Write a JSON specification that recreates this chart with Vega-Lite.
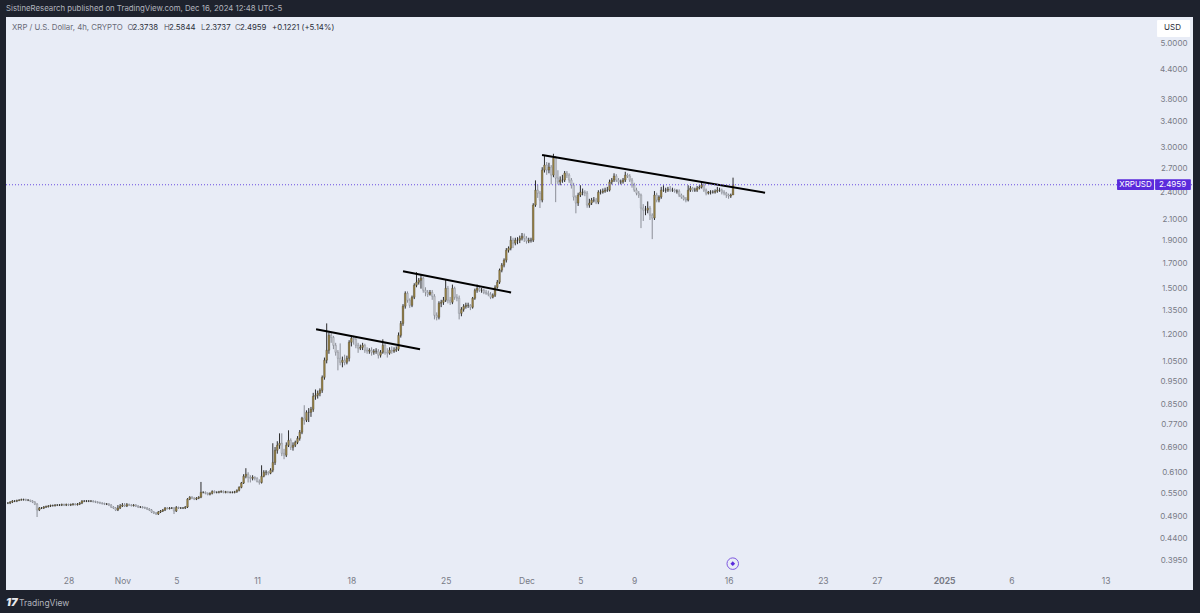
{
"$schema":"https://vega.github.io/schema/vega-lite/v6.json",
"width":1187,"height":573,
"autosize":"none",
"padding":{"left":6,"top":17,"right":7,"bottom":23},
"background":"#1e222d",
"view":{"fill":"#e8ecf6","stroke":null},
"title":{"text":"SistineResearch published on TradingView.com, Dec 16, 2024 12:48 UTC-5","anchor":"start","frame":"group","offset":4,"font":"Inter","fontSize":7.8,"fontWeight":"normal","color":"#b2b5be"},
"datasets":{
"candles":[
{"t":"2024-10-23T12:00Z","o":0.5243,"h":0.5268,"l":0.5217,"c":0.5243},
{"t":"2024-10-23T16:00Z","o":0.5243,"h":0.5294,"l":0.5217,"c":0.5268},
{"t":"2024-10-23T20:00Z","o":0.5268,"h":0.532,"l":0.5243,"c":0.5294},
{"t":"2024-10-24T00:00Z","o":0.5294,"h":0.532,"l":0.5268,"c":0.5294},
{"t":"2024-10-24T04:00Z","o":0.5294,"h":0.5332,"l":0.5268,"c":0.5307},
{"t":"2024-10-24T08:00Z","o":0.5307,"h":0.5345,"l":0.5294,"c":0.532},
{"t":"2024-10-24T12:00Z","o":0.532,"h":0.5358,"l":0.5307,"c":0.5332},
{"t":"2024-10-24T16:00Z","o":0.5332,"h":0.5358,"l":0.5307,"c":0.5332},
{"t":"2024-10-24T20:00Z","o":0.5332,"h":0.5358,"l":0.5294,"c":0.532},
{"t":"2024-10-25T00:00Z","o":0.532,"h":0.5345,"l":0.5294,"c":0.532},
{"t":"2024-10-25T04:00Z","o":0.532,"h":0.5332,"l":0.5268,"c":0.5294},
{"t":"2024-10-25T08:00Z","o":0.5294,"h":0.532,"l":0.5243,"c":0.5268},
{"t":"2024-10-25T12:00Z","o":0.5268,"h":0.5294,"l":0.5192,"c":0.5217},
{"t":"2024-10-25T16:00Z","o":0.5217,"h":0.5243,"l":0.4897,"c":0.5067},
{"t":"2024-10-25T20:00Z","o":0.5067,"h":0.5142,"l":0.5042,"c":0.5117},
{"t":"2024-10-26T00:00Z","o":0.5117,"h":0.5142,"l":0.5092,"c":0.5117},
{"t":"2024-10-26T04:00Z","o":0.5117,"h":0.5167,"l":0.5092,"c":0.5142},
{"t":"2024-10-26T08:00Z","o":0.5142,"h":0.5179,"l":0.5117,"c":0.5154},
{"t":"2024-10-26T12:00Z","o":0.5154,"h":0.5192,"l":0.513,"c":0.5167},
{"t":"2024-10-26T16:00Z","o":0.5167,"h":0.5204,"l":0.5142,"c":0.5179},
{"t":"2024-10-26T20:00Z","o":0.5179,"h":0.5204,"l":0.5154,"c":0.5179},
{"t":"2024-10-27T00:00Z","o":0.5179,"h":0.5217,"l":0.5154,"c":0.5192},
{"t":"2024-10-27T04:00Z","o":0.5192,"h":0.5217,"l":0.5167,"c":0.5192},
{"t":"2024-10-27T08:00Z","o":0.5192,"h":0.5217,"l":0.5167,"c":0.5192},
{"t":"2024-10-27T12:00Z","o":0.5192,"h":0.523,"l":0.5167,"c":0.5204},
{"t":"2024-10-27T16:00Z","o":0.5204,"h":0.523,"l":0.5167,"c":0.5192},
{"t":"2024-10-27T20:00Z","o":0.5192,"h":0.523,"l":0.5167,"c":0.5204},
{"t":"2024-10-28T00:00Z","o":0.5204,"h":0.523,"l":0.5167,"c":0.5192},
{"t":"2024-10-28T04:00Z","o":0.5192,"h":0.523,"l":0.5167,"c":0.5204},
{"t":"2024-10-28T08:00Z","o":0.5204,"h":0.5243,"l":0.5179,"c":0.5217},
{"t":"2024-10-28T12:00Z","o":0.5217,"h":0.5243,"l":0.5179,"c":0.5204},
{"t":"2024-10-28T16:00Z","o":0.5204,"h":0.5243,"l":0.5179,"c":0.5217},
{"t":"2024-10-28T20:00Z","o":0.5217,"h":0.5268,"l":0.5192,"c":0.5243},
{"t":"2024-10-29T00:00Z","o":0.5243,"h":0.532,"l":0.5217,"c":0.5294},
{"t":"2024-10-29T04:00Z","o":0.5294,"h":0.532,"l":0.5268,"c":0.5294},
{"t":"2024-10-29T08:00Z","o":0.5294,"h":0.532,"l":0.5268,"c":0.5294},
{"t":"2024-10-29T12:00Z","o":0.5294,"h":0.532,"l":0.5268,"c":0.5294},
{"t":"2024-10-29T16:00Z","o":0.5294,"h":0.532,"l":0.5268,"c":0.5294},
{"t":"2024-10-29T20:00Z","o":0.5294,"h":0.532,"l":0.5255,"c":0.5281},
{"t":"2024-10-30T00:00Z","o":0.5281,"h":0.5307,"l":0.5243,"c":0.5268},
{"t":"2024-10-30T04:00Z","o":0.5268,"h":0.5294,"l":0.523,"c":0.5255},
{"t":"2024-10-30T08:00Z","o":0.5255,"h":0.5281,"l":0.5217,"c":0.5243},
{"t":"2024-10-30T12:00Z","o":0.5243,"h":0.5268,"l":0.5204,"c":0.523},
{"t":"2024-10-30T16:00Z","o":0.523,"h":0.5255,"l":0.5192,"c":0.5217},
{"t":"2024-10-30T20:00Z","o":0.5217,"h":0.5243,"l":0.5192,"c":0.5217},
{"t":"2024-10-31T00:00Z","o":0.5217,"h":0.5243,"l":0.5167,"c":0.5192},
{"t":"2024-10-31T04:00Z","o":0.5192,"h":0.5217,"l":0.5117,"c":0.5142},
{"t":"2024-10-31T08:00Z","o":0.5142,"h":0.5167,"l":0.5092,"c":0.5117},
{"t":"2024-10-31T12:00Z","o":0.5117,"h":0.5142,"l":0.5042,"c":0.5067},
{"t":"2024-10-31T16:00Z","o":0.5067,"h":0.5192,"l":0.5042,"c":0.5117},
{"t":"2024-10-31T20:00Z","o":0.5117,"h":0.5217,"l":0.5092,"c":0.5167},
{"t":"2024-11-01T00:00Z","o":0.5167,"h":0.5243,"l":0.5142,"c":0.5192},
{"t":"2024-11-01T04:00Z","o":0.5192,"h":0.5243,"l":0.5142,"c":0.5167},
{"t":"2024-11-01T08:00Z","o":0.5167,"h":0.5243,"l":0.5142,"c":0.5204},
{"t":"2024-11-01T12:00Z","o":0.5204,"h":0.523,"l":0.5167,"c":0.5192},
{"t":"2024-11-01T16:00Z","o":0.5192,"h":0.5217,"l":0.5154,"c":0.5179},
{"t":"2024-11-01T20:00Z","o":0.5179,"h":0.5217,"l":0.5154,"c":0.5192},
{"t":"2024-11-02T00:00Z","o":0.5192,"h":0.5217,"l":0.5142,"c":0.5167},
{"t":"2024-11-02T04:00Z","o":0.5167,"h":0.5192,"l":0.5117,"c":0.5142},
{"t":"2024-11-02T08:00Z","o":0.5142,"h":0.5167,"l":0.5117,"c":0.5142},
{"t":"2024-11-02T12:00Z","o":0.5142,"h":0.5167,"l":0.5105,"c":0.513},
{"t":"2024-11-02T16:00Z","o":0.513,"h":0.5154,"l":0.5092,"c":0.5117},
{"t":"2024-11-02T20:00Z","o":0.5117,"h":0.5142,"l":0.5067,"c":0.5092},
{"t":"2024-11-03T00:00Z","o":0.5092,"h":0.5117,"l":0.5042,"c":0.5067},
{"t":"2024-11-03T04:00Z","o":0.5067,"h":0.5092,"l":0.4993,"c":0.5018},
{"t":"2024-11-03T08:00Z","o":0.5018,"h":0.5042,"l":0.4969,"c":0.4993},
{"t":"2024-11-03T12:00Z","o":0.4993,"h":0.5018,"l":0.4945,"c":0.4969},
{"t":"2024-11-03T16:00Z","o":0.4969,"h":0.5042,"l":0.4945,"c":0.5018},
{"t":"2024-11-03T20:00Z","o":0.5018,"h":0.5067,"l":0.4993,"c":0.5042},
{"t":"2024-11-04T00:00Z","o":0.5042,"h":0.5092,"l":0.5018,"c":0.5067},
{"t":"2024-11-04T04:00Z","o":0.5067,"h":0.5142,"l":0.5042,"c":0.5117},
{"t":"2024-11-04T08:00Z","o":0.5117,"h":0.5142,"l":0.508,"c":0.5105},
{"t":"2024-11-04T12:00Z","o":0.5105,"h":0.5142,"l":0.508,"c":0.5117},
{"t":"2024-11-04T16:00Z","o":0.5117,"h":0.5142,"l":0.5092,"c":0.5117},
{"t":"2024-11-04T20:00Z","o":0.5117,"h":0.5142,"l":0.4969,"c":0.5042},
{"t":"2024-11-05T00:00Z","o":0.5042,"h":0.5167,"l":0.5018,"c":0.513},
{"t":"2024-11-05T04:00Z","o":0.513,"h":0.5154,"l":0.5092,"c":0.5117},
{"t":"2024-11-05T08:00Z","o":0.5117,"h":0.5142,"l":0.5092,"c":0.5117},
{"t":"2024-11-05T12:00Z","o":0.5117,"h":0.5142,"l":0.5092,"c":0.5117},
{"t":"2024-11-05T16:00Z","o":0.5117,"h":0.5167,"l":0.5092,"c":0.5142},
{"t":"2024-11-05T20:00Z","o":0.5142,"h":0.5371,"l":0.5117,"c":0.5345},
{"t":"2024-11-06T00:00Z","o":0.5345,"h":0.5423,"l":0.532,"c":0.5397},
{"t":"2024-11-06T04:00Z","o":0.5397,"h":0.5423,"l":0.5345,"c":0.5371},
{"t":"2024-11-06T08:00Z","o":0.5371,"h":0.5397,"l":0.532,"c":0.5345},
{"t":"2024-11-06T12:00Z","o":0.5345,"h":0.5397,"l":0.532,"c":0.5371},
{"t":"2024-11-06T16:00Z","o":0.5371,"h":0.5423,"l":0.5345,"c":0.5397},
{"t":"2024-11-06T20:00Z","o":0.5397,"h":0.5815,"l":0.5371,"c":0.5526},
{"t":"2024-11-07T00:00Z","o":0.5526,"h":0.5553,"l":0.5499,"c":0.5526},
{"t":"2024-11-07T04:00Z","o":0.5526,"h":0.5553,"l":0.5472,"c":0.5499},
{"t":"2024-11-07T08:00Z","o":0.5499,"h":0.5526,"l":0.5445,"c":0.5472},
{"t":"2024-11-07T12:00Z","o":0.5472,"h":0.5526,"l":0.5445,"c":0.5499},
{"t":"2024-11-07T16:00Z","o":0.5499,"h":0.558,"l":0.5472,"c":0.5553},
{"t":"2024-11-07T20:00Z","o":0.5553,"h":0.558,"l":0.5499,"c":0.5526},
{"t":"2024-11-08T00:00Z","o":0.5526,"h":0.5553,"l":0.5499,"c":0.5526},
{"t":"2024-11-08T04:00Z","o":0.5526,"h":0.5566,"l":0.5499,"c":0.554},
{"t":"2024-11-08T08:00Z","o":0.554,"h":0.558,"l":0.5513,"c":0.5553},
{"t":"2024-11-08T12:00Z","o":0.5553,"h":0.558,"l":0.5499,"c":0.5526},
{"t":"2024-11-08T16:00Z","o":0.5526,"h":0.5566,"l":0.5499,"c":0.554},
{"t":"2024-11-08T20:00Z","o":0.554,"h":0.5566,"l":0.5499,"c":0.5526},
{"t":"2024-11-09T00:00Z","o":0.5526,"h":0.5553,"l":0.5499,"c":0.5526},
{"t":"2024-11-09T04:00Z","o":0.5526,"h":0.5553,"l":0.5499,"c":0.5526},
{"t":"2024-11-09T08:00Z","o":0.5526,"h":0.5566,"l":0.5499,"c":0.554},
{"t":"2024-11-09T12:00Z","o":0.554,"h":0.5607,"l":0.5513,"c":0.558},
{"t":"2024-11-09T16:00Z","o":0.558,"h":0.5692,"l":0.5553,"c":0.5665},
{"t":"2024-11-09T20:00Z","o":0.5665,"h":0.5815,"l":0.5638,"c":0.5786},
{"t":"2024-11-10T00:00Z","o":0.5786,"h":0.604,"l":0.5757,"c":0.598},
{"t":"2024-11-10T04:00Z","o":0.598,"h":0.622,"l":0.592,"c":0.604},
{"t":"2024-11-10T08:00Z","o":0.604,"h":0.61,"l":0.58,"c":0.595},
{"t":"2024-11-10T12:00Z","o":0.595,"h":0.601,"l":0.58,"c":0.592},
{"t":"2024-11-10T16:00Z","o":0.592,"h":0.601,"l":0.586,"c":0.595},
{"t":"2024-11-10T20:00Z","o":0.595,"h":0.598,"l":0.586,"c":0.592},
{"t":"2024-11-11T00:00Z","o":0.592,"h":0.595,"l":0.58,"c":0.583},
{"t":"2024-11-11T04:00Z","o":0.583,"h":0.589,"l":0.574,"c":0.58},
{"t":"2024-11-11T08:00Z","o":0.58,"h":0.631,"l":0.577,"c":0.598},
{"t":"2024-11-11T12:00Z","o":0.598,"h":0.616,"l":0.595,"c":0.61},
{"t":"2024-11-11T16:00Z","o":0.61,"h":0.616,"l":0.601,"c":0.61},
{"t":"2024-11-11T20:00Z","o":0.61,"h":0.613,"l":0.601,"c":0.607},
{"t":"2024-11-12T00:00Z","o":0.607,"h":0.622,"l":0.604,"c":0.616},
{"t":"2024-11-12T04:00Z","o":0.616,"h":0.703,"l":0.61,"c":0.64},
{"t":"2024-11-12T08:00Z","o":0.64,"h":0.69,"l":0.632,"c":0.679},
{"t":"2024-11-12T12:00Z","o":0.679,"h":0.71,"l":0.668,"c":0.696},
{"t":"2024-11-12T16:00Z","o":0.696,"h":0.738,"l":0.684,"c":0.703},
{"t":"2024-11-12T20:00Z","o":0.703,"h":0.738,"l":0.66,"c":0.669},
{"t":"2024-11-13T00:00Z","o":0.669,"h":0.684,"l":0.65,"c":0.663},
{"t":"2024-11-13T04:00Z","o":0.663,"h":0.706,"l":0.657,"c":0.696},
{"t":"2024-11-13T08:00Z","o":0.696,"h":0.749,"l":0.69,"c":0.713},
{"t":"2024-11-13T12:00Z","o":0.713,"h":0.72,"l":0.68,"c":0.689},
{"t":"2024-11-13T16:00Z","o":0.689,"h":0.706,"l":0.678,"c":0.696},
{"t":"2024-11-13T20:00Z","o":0.696,"h":0.712,"l":0.69,"c":0.706},
{"t":"2024-11-14T00:00Z","o":0.706,"h":0.728,"l":0.7,"c":0.72},
{"t":"2024-11-14T04:00Z","o":0.72,"h":0.75,"l":0.712,"c":0.742},
{"t":"2024-11-14T08:00Z","o":0.742,"h":0.8,"l":0.735,"c":0.795},
{"t":"2024-11-14T12:00Z","o":0.795,"h":0.847,"l":0.77,"c":0.787},
{"t":"2024-11-14T16:00Z","o":0.787,"h":0.826,"l":0.78,"c":0.818},
{"t":"2024-11-14T20:00Z","o":0.818,"h":0.835,"l":0.78,"c":0.818},
{"t":"2024-11-15T00:00Z","o":0.818,"h":0.84,"l":0.8,"c":0.83},
{"t":"2024-11-15T04:00Z","o":0.83,"h":0.9,"l":0.82,"c":0.885},
{"t":"2024-11-15T08:00Z","o":0.885,"h":0.915,"l":0.87,"c":0.889},
{"t":"2024-11-15T12:00Z","o":0.889,"h":0.91,"l":0.875,"c":0.898},
{"t":"2024-11-15T16:00Z","o":0.898,"h":0.92,"l":0.885,"c":0.911},
{"t":"2024-11-15T20:00Z","o":0.911,"h":0.98,"l":0.9,"c":0.971},
{"t":"2024-11-16T00:00Z","o":0.971,"h":1.07,"l":0.96,"c":1.056},
{"t":"2024-11-16T04:00Z","o":1.056,"h":1.265,"l":1.04,"c":1.109},
{"t":"2024-11-16T08:00Z","o":1.109,"h":1.21,"l":1.09,"c":1.193},
{"t":"2024-11-16T12:00Z","o":1.193,"h":1.21,"l":1.15,"c":1.181},
{"t":"2024-11-16T16:00Z","o":1.181,"h":1.19,"l":1.115,"c":1.136},
{"t":"2024-11-16T20:00Z","o":1.136,"h":1.15,"l":1.08,"c":1.098},
{"t":"2024-11-17T00:00Z","o":1.098,"h":1.11,"l":1.005,"c":1.066},
{"t":"2024-11-17T04:00Z","o":1.066,"h":1.147,"l":1.03,"c":1.045},
{"t":"2024-11-17T08:00Z","o":1.045,"h":1.075,"l":1.02,"c":1.056},
{"t":"2024-11-17T12:00Z","o":1.056,"h":1.085,"l":1.03,"c":1.045},
{"t":"2024-11-17T16:00Z","o":1.045,"h":1.08,"l":1.035,"c":1.066},
{"t":"2024-11-17T20:00Z","o":1.066,"h":1.165,"l":1.05,"c":1.153},
{"t":"2024-11-18T00:00Z","o":1.153,"h":1.19,"l":1.13,"c":1.176},
{"t":"2024-11-18T04:00Z","o":1.176,"h":1.19,"l":1.14,"c":1.17},
{"t":"2024-11-18T08:00Z","o":1.17,"h":1.18,"l":1.12,"c":1.136},
{"t":"2024-11-18T12:00Z","o":1.136,"h":1.15,"l":1.095,"c":1.12},
{"t":"2024-11-18T16:00Z","o":1.12,"h":1.14,"l":1.11,"c":1.125},
{"t":"2024-11-18T20:00Z","o":1.125,"h":1.15,"l":1.11,"c":1.136},
{"t":"2024-11-19T00:00Z","o":1.136,"h":1.145,"l":1.095,"c":1.109},
{"t":"2024-11-19T04:00Z","o":1.109,"h":1.125,"l":1.09,"c":1.104},
{"t":"2024-11-19T08:00Z","o":1.104,"h":1.12,"l":1.09,"c":1.109},
{"t":"2024-11-19T12:00Z","o":1.109,"h":1.125,"l":1.08,"c":1.098},
{"t":"2024-11-19T16:00Z","o":1.098,"h":1.115,"l":1.085,"c":1.104},
{"t":"2024-11-19T20:00Z","o":1.104,"h":1.12,"l":1.09,"c":1.104},
{"t":"2024-11-20T00:00Z","o":1.104,"h":1.115,"l":1.065,"c":1.082},
{"t":"2024-11-20T04:00Z","o":1.082,"h":1.11,"l":1.07,"c":1.098},
{"t":"2024-11-20T08:00Z","o":1.098,"h":1.17,"l":1.09,"c":1.136},
{"t":"2024-11-20T12:00Z","o":1.136,"h":1.15,"l":1.085,"c":1.098},
{"t":"2024-11-20T16:00Z","o":1.098,"h":1.12,"l":1.07,"c":1.093},
{"t":"2024-11-20T20:00Z","o":1.093,"h":1.125,"l":1.085,"c":1.109},
{"t":"2024-11-21T00:00Z","o":1.109,"h":1.13,"l":1.09,"c":1.104},
{"t":"2024-11-21T04:00Z","o":1.104,"h":1.125,"l":1.095,"c":1.109},
{"t":"2024-11-21T08:00Z","o":1.109,"h":1.13,"l":1.1,"c":1.115},
{"t":"2024-11-21T12:00Z","o":1.115,"h":1.21,"l":1.105,"c":1.193},
{"t":"2024-11-21T16:00Z","o":1.193,"h":1.28,"l":1.18,"c":1.265},
{"t":"2024-11-21T20:00Z","o":1.265,"h":1.39,"l":1.25,"c":1.376},
{"t":"2024-11-22T00:00Z","o":1.376,"h":1.48,"l":1.36,"c":1.466},
{"t":"2024-11-22T04:00Z","o":1.466,"h":1.48,"l":1.4,"c":1.417},
{"t":"2024-11-22T08:00Z","o":1.417,"h":1.43,"l":1.365,"c":1.382},
{"t":"2024-11-22T12:00Z","o":1.382,"h":1.45,"l":1.37,"c":1.438},
{"t":"2024-11-22T16:00Z","o":1.438,"h":1.54,"l":1.425,"c":1.525},
{"t":"2024-11-22T20:00Z","o":1.525,"h":1.626,"l":1.51,"c":1.548},
{"t":"2024-11-23T00:00Z","o":1.548,"h":1.58,"l":1.53,"c":1.563},
{"t":"2024-11-23T04:00Z","o":1.563,"h":1.61,"l":1.5,"c":1.579},
{"t":"2024-11-23T08:00Z","o":1.579,"h":1.59,"l":1.47,"c":1.488},
{"t":"2024-11-23T12:00Z","o":1.488,"h":1.51,"l":1.445,"c":1.473},
{"t":"2024-11-23T16:00Z","o":1.473,"h":1.49,"l":1.44,"c":1.459},
{"t":"2024-11-23T20:00Z","o":1.459,"h":1.49,"l":1.45,"c":1.473},
{"t":"2024-11-24T00:00Z","o":1.473,"h":1.49,"l":1.42,"c":1.445},
{"t":"2024-11-24T04:00Z","o":1.445,"h":1.46,"l":1.29,"c":1.316},
{"t":"2024-11-24T08:00Z","o":1.316,"h":1.335,"l":1.284,"c":1.303},
{"t":"2024-11-24T12:00Z","o":1.303,"h":1.41,"l":1.29,"c":1.396},
{"t":"2024-11-24T16:00Z","o":1.396,"h":1.42,"l":1.37,"c":1.403},
{"t":"2024-11-24T20:00Z","o":1.403,"h":1.44,"l":1.385,"c":1.417},
{"t":"2024-11-25T00:00Z","o":1.417,"h":1.57,"l":1.405,"c":1.502},
{"t":"2024-11-25T04:00Z","o":1.502,"h":1.52,"l":1.395,"c":1.417},
{"t":"2024-11-25T08:00Z","o":1.417,"h":1.44,"l":1.385,"c":1.403},
{"t":"2024-11-25T12:00Z","o":1.403,"h":1.53,"l":1.39,"c":1.502},
{"t":"2024-11-25T16:00Z","o":1.502,"h":1.515,"l":1.42,"c":1.438},
{"t":"2024-11-25T20:00Z","o":1.438,"h":1.46,"l":1.41,"c":1.431},
{"t":"2024-11-26T00:00Z","o":1.431,"h":1.45,"l":1.29,"c":1.329},
{"t":"2024-11-26T04:00Z","o":1.329,"h":1.37,"l":1.31,"c":1.355},
{"t":"2024-11-26T08:00Z","o":1.355,"h":1.39,"l":1.34,"c":1.375},
{"t":"2024-11-26T12:00Z","o":1.375,"h":1.4,"l":1.36,"c":1.382},
{"t":"2024-11-26T16:00Z","o":1.382,"h":1.4,"l":1.365,"c":1.382},
{"t":"2024-11-26T20:00Z","o":1.382,"h":1.39,"l":1.35,"c":1.369},
{"t":"2024-11-27T00:00Z","o":1.369,"h":1.44,"l":1.36,"c":1.431},
{"t":"2024-11-27T04:00Z","o":1.431,"h":1.5,"l":1.42,"c":1.488},
{"t":"2024-11-27T08:00Z","o":1.488,"h":1.53,"l":1.47,"c":1.502},
{"t":"2024-11-27T12:00Z","o":1.502,"h":1.515,"l":1.475,"c":1.488},
{"t":"2024-11-27T16:00Z","o":1.488,"h":1.505,"l":1.47,"c":1.488},
{"t":"2024-11-27T20:00Z","o":1.488,"h":1.5,"l":1.46,"c":1.473},
{"t":"2024-11-28T00:00Z","o":1.473,"h":1.49,"l":1.455,"c":1.466},
{"t":"2024-11-28T04:00Z","o":1.466,"h":1.485,"l":1.445,"c":1.459},
{"t":"2024-11-28T08:00Z","o":1.459,"h":1.475,"l":1.425,"c":1.438},
{"t":"2024-11-28T12:00Z","o":1.438,"h":1.465,"l":1.43,"c":1.452},
{"t":"2024-11-28T16:00Z","o":1.452,"h":1.525,"l":1.44,"c":1.51},
{"t":"2024-11-28T20:00Z","o":1.51,"h":1.565,"l":1.5,"c":1.548},
{"t":"2024-11-29T00:00Z","o":1.548,"h":1.655,"l":1.535,"c":1.642},
{"t":"2024-11-29T04:00Z","o":1.642,"h":1.7,"l":1.625,"c":1.683},
{"t":"2024-11-29T08:00Z","o":1.683,"h":1.74,"l":1.665,"c":1.725},
{"t":"2024-11-29T12:00Z","o":1.725,"h":1.83,"l":1.705,"c":1.811},
{"t":"2024-11-29T16:00Z","o":1.811,"h":1.845,"l":1.79,"c":1.829},
{"t":"2024-11-29T20:00Z","o":1.829,"h":1.94,"l":1.81,"c":1.902},
{"t":"2024-11-30T00:00Z","o":1.902,"h":1.925,"l":1.83,"c":1.875},
{"t":"2024-11-30T04:00Z","o":1.875,"h":1.925,"l":1.855,"c":1.902},
{"t":"2024-11-30T08:00Z","o":1.902,"h":1.93,"l":1.865,"c":1.902},
{"t":"2024-11-30T12:00Z","o":1.902,"h":1.945,"l":1.875,"c":1.921},
{"t":"2024-11-30T16:00Z","o":1.921,"h":1.97,"l":1.9,"c":1.94},
{"t":"2024-11-30T20:00Z","o":1.94,"h":1.965,"l":1.885,"c":1.921},
{"t":"2024-12-01T00:00Z","o":1.921,"h":1.94,"l":1.87,"c":1.893},
{"t":"2024-12-01T04:00Z","o":1.893,"h":1.925,"l":1.875,"c":1.902},
{"t":"2024-12-01T08:00Z","o":1.902,"h":1.925,"l":1.88,"c":1.902},
{"t":"2024-12-01T12:00Z","o":1.902,"h":2.28,"l":1.885,"c":2.259},
{"t":"2024-12-01T16:00Z","o":2.259,"h":2.55,"l":2.24,"c":2.431},
{"t":"2024-12-01T20:00Z","o":2.431,"h":2.5,"l":2.34,"c":2.395},
{"t":"2024-12-02T00:00Z","o":2.395,"h":2.42,"l":2.227,"c":2.315},
{"t":"2024-12-02T04:00Z","o":2.315,"h":2.72,"l":2.29,"c":2.682},
{"t":"2024-12-02T08:00Z","o":2.682,"h":2.873,"l":2.65,"c":2.749},
{"t":"2024-12-02T12:00Z","o":2.749,"h":2.79,"l":2.62,"c":2.682},
{"t":"2024-12-02T16:00Z","o":2.682,"h":2.78,"l":2.64,"c":2.722},
{"t":"2024-12-02T20:00Z","o":2.722,"h":2.75,"l":2.5,"c":2.617},
{"t":"2024-12-03T00:00Z","o":2.617,"h":2.905,"l":2.59,"c":2.845},
{"t":"2024-12-03T04:00Z","o":2.845,"h":2.873,"l":2.292,"c":2.579},
{"t":"2024-12-03T08:00Z","o":2.579,"h":2.68,"l":2.5,"c":2.53},
{"t":"2024-12-03T12:00Z","o":2.53,"h":2.6,"l":2.49,"c":2.554},
{"t":"2024-12-03T16:00Z","o":2.554,"h":2.62,"l":2.52,"c":2.554},
{"t":"2024-12-03T20:00Z","o":2.554,"h":2.67,"l":2.53,"c":2.643},
{"t":"2024-12-04T00:00Z","o":2.643,"h":2.67,"l":2.58,"c":2.617},
{"t":"2024-12-04T04:00Z","o":2.617,"h":2.64,"l":2.52,"c":2.554},
{"t":"2024-12-04T08:00Z","o":2.554,"h":2.58,"l":2.45,"c":2.492},
{"t":"2024-12-04T12:00Z","o":2.492,"h":2.52,"l":2.31,"c":2.35},
{"t":"2024-12-04T16:00Z","o":2.35,"h":2.37,"l":2.17,"c":2.282},
{"t":"2024-12-04T20:00Z","o":2.282,"h":2.4,"l":2.25,"c":2.373},
{"t":"2024-12-05T00:00Z","o":2.373,"h":2.49,"l":2.35,"c":2.407},
{"t":"2024-12-05T04:00Z","o":2.407,"h":2.45,"l":2.37,"c":2.407},
{"t":"2024-12-05T08:00Z","o":2.407,"h":2.43,"l":2.36,"c":2.395},
{"t":"2024-12-05T12:00Z","o":2.395,"h":2.42,"l":2.23,"c":2.259},
{"t":"2024-12-05T16:00Z","o":2.259,"h":2.33,"l":2.23,"c":2.282},
{"t":"2024-12-05T20:00Z","o":2.282,"h":2.34,"l":2.26,"c":2.315},
{"t":"2024-12-06T00:00Z","o":2.315,"h":2.35,"l":2.29,"c":2.315},
{"t":"2024-12-06T04:00Z","o":2.315,"h":2.34,"l":2.27,"c":2.292},
{"t":"2024-12-06T08:00Z","o":2.292,"h":2.43,"l":2.27,"c":2.407},
{"t":"2024-12-06T12:00Z","o":2.407,"h":2.44,"l":2.38,"c":2.407},
{"t":"2024-12-06T16:00Z","o":2.407,"h":2.45,"l":2.39,"c":2.419},
{"t":"2024-12-06T20:00Z","o":2.419,"h":2.46,"l":2.4,"c":2.431},
{"t":"2024-12-07T00:00Z","o":2.431,"h":2.47,"l":2.41,"c":2.431},
{"t":"2024-12-07T04:00Z","o":2.431,"h":2.56,"l":2.415,"c":2.53},
{"t":"2024-12-07T08:00Z","o":2.53,"h":2.58,"l":2.5,"c":2.554},
{"t":"2024-12-07T12:00Z","o":2.554,"h":2.64,"l":2.53,"c":2.604},
{"t":"2024-12-07T16:00Z","o":2.604,"h":2.63,"l":2.53,"c":2.554},
{"t":"2024-12-07T20:00Z","o":2.554,"h":2.58,"l":2.5,"c":2.53},
{"t":"2024-12-08T00:00Z","o":2.53,"h":2.56,"l":2.5,"c":2.53},
{"t":"2024-12-08T04:00Z","o":2.53,"h":2.58,"l":2.51,"c":2.554},
{"t":"2024-12-08T08:00Z","o":2.554,"h":2.66,"l":2.53,"c":2.617},
{"t":"2024-12-08T12:00Z","o":2.617,"h":2.64,"l":2.58,"c":2.604},
{"t":"2024-12-08T16:00Z","o":2.604,"h":2.63,"l":2.53,"c":2.554},
{"t":"2024-12-08T20:00Z","o":2.554,"h":2.58,"l":2.46,"c":2.492},
{"t":"2024-12-09T00:00Z","o":2.492,"h":2.52,"l":2.41,"c":2.431},
{"t":"2024-12-09T04:00Z","o":2.431,"h":2.46,"l":2.37,"c":2.395},
{"t":"2024-12-09T08:00Z","o":2.395,"h":2.42,"l":2.34,"c":2.373},
{"t":"2024-12-09T12:00Z","o":2.373,"h":2.39,"l":2.018,"c":2.226},
{"t":"2024-12-09T16:00Z","o":2.226,"h":2.27,"l":2.09,"c":2.204},
{"t":"2024-12-09T20:00Z","o":2.204,"h":2.25,"l":2.15,"c":2.204},
{"t":"2024-12-10T00:00Z","o":2.204,"h":2.3,"l":2.17,"c":2.226},
{"t":"2024-12-10T04:00Z","o":2.226,"h":2.25,"l":2.1,"c":2.151},
{"t":"2024-12-10T08:00Z","o":2.151,"h":2.17,"l":1.912,"c":2.12},
{"t":"2024-12-10T12:00Z","o":2.12,"h":2.42,"l":2.1,"c":2.373},
{"t":"2024-12-10T16:00Z","o":2.373,"h":2.4,"l":2.29,"c":2.315},
{"t":"2024-12-10T20:00Z","o":2.315,"h":2.37,"l":2.29,"c":2.35},
{"t":"2024-12-11T00:00Z","o":2.35,"h":2.47,"l":2.33,"c":2.431},
{"t":"2024-12-11T04:00Z","o":2.431,"h":2.49,"l":2.41,"c":2.431},
{"t":"2024-12-11T08:00Z","o":2.431,"h":2.46,"l":2.4,"c":2.431},
{"t":"2024-12-11T12:00Z","o":2.431,"h":2.47,"l":2.41,"c":2.443},
{"t":"2024-12-11T16:00Z","o":2.443,"h":2.48,"l":2.41,"c":2.431},
{"t":"2024-12-11T20:00Z","o":2.431,"h":2.46,"l":2.41,"c":2.431},
{"t":"2024-12-12T00:00Z","o":2.431,"h":2.45,"l":2.4,"c":2.419},
{"t":"2024-12-12T04:00Z","o":2.419,"h":2.44,"l":2.39,"c":2.419},
{"t":"2024-12-12T08:00Z","o":2.419,"h":2.44,"l":2.35,"c":2.373},
{"t":"2024-12-12T12:00Z","o":2.373,"h":2.39,"l":2.33,"c":2.35},
{"t":"2024-12-12T16:00Z","o":2.35,"h":2.37,"l":2.31,"c":2.327},
{"t":"2024-12-12T20:00Z","o":2.327,"h":2.35,"l":2.29,"c":2.315},
{"t":"2024-12-13T00:00Z","o":2.315,"h":2.49,"l":2.3,"c":2.431},
{"t":"2024-12-13T04:00Z","o":2.431,"h":2.48,"l":2.41,"c":2.455},
{"t":"2024-12-13T08:00Z","o":2.455,"h":2.47,"l":2.41,"c":2.431},
{"t":"2024-12-13T12:00Z","o":2.431,"h":2.46,"l":2.41,"c":2.431},
{"t":"2024-12-13T16:00Z","o":2.431,"h":2.48,"l":2.41,"c":2.455},
{"t":"2024-12-13T20:00Z","o":2.455,"h":2.49,"l":2.44,"c":2.467},
{"t":"2024-12-14T00:00Z","o":2.467,"h":2.53,"l":2.45,"c":2.492},
{"t":"2024-12-14T04:00Z","o":2.492,"h":2.51,"l":2.41,"c":2.431},
{"t":"2024-12-14T08:00Z","o":2.431,"h":2.45,"l":2.37,"c":2.395},
{"t":"2024-12-14T12:00Z","o":2.395,"h":2.42,"l":2.38,"c":2.407},
{"t":"2024-12-14T16:00Z","o":2.407,"h":2.43,"l":2.38,"c":2.407},
{"t":"2024-12-14T20:00Z","o":2.407,"h":2.43,"l":2.39,"c":2.407},
{"t":"2024-12-15T00:00Z","o":2.407,"h":2.44,"l":2.39,"c":2.419},
{"t":"2024-12-15T04:00Z","o":2.419,"h":2.47,"l":2.4,"c":2.431},
{"t":"2024-12-15T08:00Z","o":2.431,"h":2.46,"l":2.41,"c":2.431},
{"t":"2024-12-15T12:00Z","o":2.431,"h":2.45,"l":2.38,"c":2.407},
{"t":"2024-12-15T16:00Z","o":2.407,"h":2.43,"l":2.37,"c":2.395},
{"t":"2024-12-15T20:00Z","o":2.395,"h":2.41,"l":2.34,"c":2.373},
{"t":"2024-12-16T00:00Z","o":2.373,"h":2.39,"l":2.33,"c":2.361},
{"t":"2024-12-16T04:00Z","o":2.361,"h":2.39,"l":2.34,"c":2.3738},
{"t":"2024-12-16T08:00Z","o":2.3738,"h":2.5844,"l":2.3737,"c":2.4959}
],
"trendlines":[
{"line":"a","t":"2024-11-15T09:05Z","price":1.229},
{"line":"a","t":"2024-11-23T02:20Z","price":1.114},
{"line":"b","t":"2024-11-21T20:00Z","price":1.634},
{"line":"b","t":"2024-11-29T20:30Z","price":1.472},
{"line":"c","t":"2024-12-02T03:45Z","price":2.887},
{"line":"c","t":"2024-12-18T17:00Z","price":2.401}
],
"lastprice":[{"from":"2024-10-23T08:38Z","to":"2025-01-19T11:30Z","price":2.4959}],
"tags":[
{"from":"2025-01-13T20:10Z","to":"2025-01-16T14:10Z","top":2.564,"bottom":2.432,"kind":"purple"},
{"from":"2025-01-16T16:00Z","to":"2025-01-19T07:40Z","top":2.564,"bottom":2.432,"kind":"purple"},
{"from":"2025-01-16T19:30Z","to":"2025-01-19T06:20Z","top":5.597,"bottom":5.149,"kind":"white"}
],
"tagtext":[
{"t":"2025-01-15T05:00Z","price":2.4959,"text":"XRPUSD","kind":"light"},
{"t":"2025-01-17T23:00Z","price":2.4959,"text":"2.4959","kind":"light"},
{"t":"2025-01-17T23:00Z","price":5.375,"text":"USD","kind":"dark"}
],
"legendline":[
{"t":"2024-10-23T19:25Z","price":5.381,"text":"XRP / U.S. Dollar, 4h, CRYPTO","kind":"dim"},
{"t":"2024-11-01T09:05Z","price":5.381,"text":"O","kind":"dim"},
{"t":"2024-11-01T18:00Z","price":5.381,"text":"2.3738","kind":"dark"},
{"t":"2024-11-04T02:10Z","price":5.381,"text":"H","kind":"dim"},
{"t":"2024-11-04T11:00Z","price":5.381,"text":"2.5844","kind":"dark"},
{"t":"2024-11-06T20:00Z","price":5.381,"text":"L","kind":"dim"},
{"t":"2024-11-07T04:00Z","price":5.381,"text":"2.3737","kind":"dark"},
{"t":"2024-11-09T08:40Z","price":5.381,"text":"C","kind":"dim"},
{"t":"2024-11-09T17:30Z","price":5.381,"text":"2.4959","kind":"dark"},
{"t":"2024-11-12T02:40Z","price":5.381,"text":"+0.1221 (+5.14%)","kind":"dark"}
]
},
"encoding":{
"x":{"field":"t","type":"temporal","title":null,
"scale":{"type":"utc","domain":["2024-10-23T08:38:00Z","2025-01-19T11:30:00Z"],"nice":false,"padding":0},
"axis":{"orient":"bottom","offset":-14,"domain":false,"ticks":false,"grid":false,"labelFont":"Inter","labelFontSize":8.5,"labelColor":"#787b86","labelPadding":0,"labelOverlap":false,"labelFlush":false,
"values":["2024-10-28T00:00:00Z","2024-11-01T00:00:00Z","2024-11-05T00:00:00Z","2024-11-11T00:00:00Z","2024-11-18T00:00:00Z","2024-11-25T00:00:00Z","2024-12-01T00:00:00Z","2024-12-05T00:00:00Z","2024-12-09T00:00:00Z","2024-12-16T00:00:00Z","2024-12-23T00:00:00Z","2024-12-27T00:00:00Z","2025-01-01T00:00:00Z","2025-01-06T00:00:00Z","2025-01-13T00:00:00Z"],
"labelExpr":"utcdate(datum.value)==1 ? (utcmonth(datum.value)==0 ? utcFormat(datum.value,'%Y') : utcFormat(datum.value,'%b')) : utcFormat(datum.value,'%-d')",
"labelFontWeight":{"condition":{"test":"utcmonth(datum.value)==0 && utcdate(datum.value)==1","value":"bold"},"value":"normal"}}}
},
"layer":[
{"data":{"name":"candles"},
 "mark":{"type":"rule","strokeWidth":1},
 "encoding":{"y":{"field":"l","type":"quantitative","title":null,
   "scale":{"type":"log","domain":[0.3424,5.68],"nice":false,"padding":0},
   "axis":{"orient":"left","offset":-1181,"domain":false,"ticks":false,"grid":false,"labelFont":"Inter","labelFontSize":8,"labelColor":"#787b86","labelPadding":0,"labelOverlap":false,"format":".4f",
   "values":[5,4.4,3.8,3.4,3,2.7,2.4,2.1,1.9,1.7,1.5,1.35,1.2,1.05,0.95,0.85,0.77,0.69,0.61,0.55,0.49,0.44,0.395]}},
  "y2":{"field":"h"},
  "color":{"condition":{"test":"datum.c>=datum.o","value":"#2b2b2b"},"value":"#8b8e96"}}},
{"data":{"name":"candles"},
 "mark":{"type":"bar","width":1.7,"strokeWidth":0.3},
 "encoding":{"y":{"field":"o","type":"quantitative","title":null},"y2":{"field":"c"},
  "color":{"condition":{"test":"datum.c>=datum.o","value":"#9a8345"},"value":"#c3c6cd"},
  "stroke":{"condition":{"test":"datum.c>=datum.o","value":"#3a3524"},"value":"#777a82"}}},
{"data":{"name":"trendlines"},
 "mark":{"type":"line","color":"#000000","strokeWidth":2},
 "encoding":{"y":{"field":"price","type":"quantitative","title":null},"detail":{"field":"line"}}},
{"data":{"name":"lastprice"},
 "mark":{"type":"rule","color":"#6a4ce0","strokeWidth":1,"strokeDash":[1,2]},
 "encoding":{"x":{"field":"from","type":"temporal","title":null},"x2":{"field":"to"},"y":{"field":"price","type":"quantitative","title":null}}},
{"data":{"name":"tags"},
 "mark":{"type":"rect","cornerRadius":1},
 "encoding":{"x":{"field":"from","type":"temporal","title":null},"x2":{"field":"to"},"y":{"field":"top","type":"quantitative","title":null},"y2":{"field":"bottom"},
  "color":{"field":"kind","type":"nominal","legend":null,"scale":{"domain":["purple","white"],"range":["#5b2bdc","#ffffff"]}}}},
{"data":{"name":"tagtext"},
 "mark":{"type":"text","font":"Inter","fontSize":8,"align":"center","baseline":"middle"},
 "encoding":{"y":{"field":"price","type":"quantitative","title":null},"text":{"field":"text"},
  "color":{"condition":{"test":"datum.kind=='dark'","value":"#2a2e39"},"value":"#ffffff"}}},
{"data":{"name":"legendline"},
 "mark":{"type":"text","font":"Inter","fontSize":7.8,"fontWeight":"normal","align":"left","baseline":"middle"},
 "encoding":{"y":{"field":"price","type":"quantitative","title":null},"text":{"field":"text"},
  "color":{"condition":{"test":"datum.kind=='dark'","value":"#2a2e39"},"value":"#686b76"}}},
{"data":{"values":[{"t":"2024-12-16T07:30Z","price":0.3896}]},
 "mark":{"type":"point","shape":"circle","size":133,"filled":false,"opacity":1,"color":"#7e57e0","strokeWidth":1},
 "encoding":{"y":{"field":"price","type":"quantitative","title":null}}},
{"data":{"values":[{"t":"2024-12-16T07:30Z","price":0.3896}]},
 "mark":{"type":"point","shape":"diamond","size":22,"filled":true,"opacity":1,"color":"#5b2bdc"},
 "encoding":{"y":{"field":"price","type":"quantitative","title":null}}},
{"data":{"values":[{"t":"2024-10-24T08:00Z","price":0.3216,"text":"TradingView"}]},
 "mark":{"type":"text","font":"Inter","fontSize":8.5,"align":"left","baseline":"middle","color":"#b2b5be","clip":false},
 "encoding":{"y":{"field":"price","type":"quantitative","title":null},"text":{"field":"text"}}},
{"data":{"values":[{"t":"2024-10-23T08:50Z","price":0.3216,"text":"17"}]},
 "mark":{"type":"text","font":"Inter","fontSize":11,"fontWeight":900,"fontStyle":"italic","align":"left","baseline":"middle","color":"#e8e9ec","clip":false},
 "encoding":{"y":{"field":"price","type":"quantitative","title":null},"text":{"field":"text"}}}
]
}
